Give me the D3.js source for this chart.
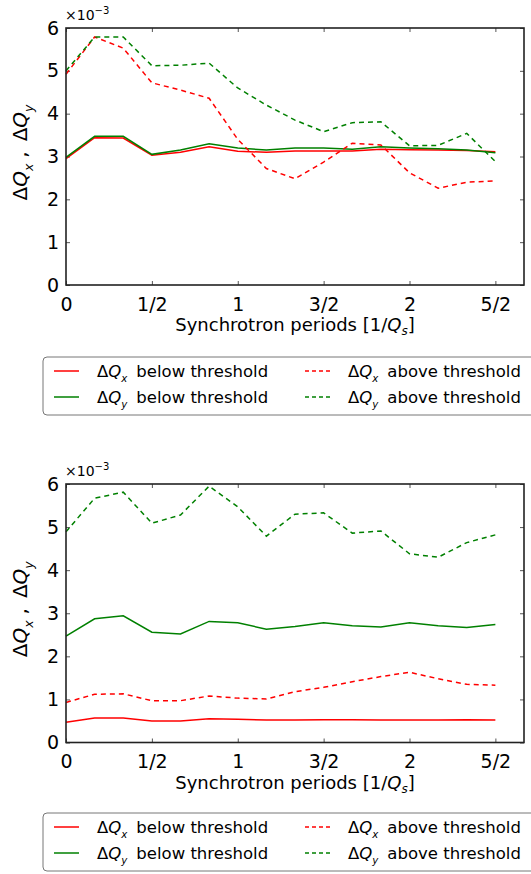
<!DOCTYPE html>
<html>
<head>
<meta charset="utf-8">
<script src="https://cdn.jsdelivr.net/npm/d3@7"></script>
<style>
  body { margin: 0; background: #fff; }
  text { font-family: "DejaVu Sans", sans-serif; fill: #000; }
</style>
</head>
<body>
<svg width="531" height="874"></svg>
<script>
// sample points, in synchrotron periods (1/6 period apart)
var periods = d3.range(16).map(function(i) { return i / 6; });
var xTicks = [0, 0.5, 1, 1.5, 2, 2.5];
var xTickLabels = ["0", "1/2", "1", "3/2", "2", "5/2"];
var yTicks = [0, 1, 2, 3, 4, 5, 6];

// top panel (x1e-3)
var topDqxBelow = [2.95, 3.44, 3.43, 3.03, 3.10, 3.23, 3.12, 3.10, 3.13, 3.13, 3.13, 3.17, 3.16, 3.15, 3.14, 3.11];
var topDqyBelow = [2.98, 3.47, 3.47, 3.05, 3.15, 3.30, 3.20, 3.15, 3.20, 3.20, 3.17, 3.23, 3.20, 3.18, 3.15, 3.09];
var topDqxAbove = [4.92, 5.79, 5.53, 4.72, 4.55, 4.36, 3.40, 2.72, 2.48, 2.87, 3.31, 3.27, 2.62, 2.26, 2.40, 2.43];
var topDqyAbove = [5.00, 5.79, 5.79, 5.12, 5.13, 5.18, 4.60, 4.20, 3.85, 3.58, 3.79, 3.81, 3.25, 3.26, 3.54, 2.88];

// bottom panel (x1e-3)
var botDqxBelow = [0.47, 0.57, 0.57, 0.50, 0.50, 0.55, 0.54, 0.52, 0.52, 0.53, 0.53, 0.52, 0.52, 0.52, 0.53, 0.52];
var botDqyBelow = [2.47, 2.87, 2.94, 2.56, 2.52, 2.81, 2.78, 2.63, 2.69, 2.78, 2.71, 2.68, 2.78, 2.71, 2.67, 2.74];
var botDqxAbove = [0.93, 1.12, 1.13, 0.97, 0.97, 1.08, 1.03, 1.01, 1.18, 1.28, 1.41, 1.53, 1.63, 1.48, 1.35, 1.33];
var botDqyAbove = [4.89, 5.67, 5.81, 5.09, 5.28, 5.95, 5.47, 4.79, 5.30, 5.33, 4.86, 4.91, 4.38, 4.30, 4.64, 4.82];

var RED = "#ff0000", GREEN = "#008000";

var svg = d3.select("svg");

// writes "ΔQ" with a lowered italic subscript; the next tspan must shift back up by 0.28*fs
function dq(text, sub, fs, dx) {
  text.append("tspan").attr("dx", dx || 0).text("\u0394");
  text.append("tspan").attr("font-style", "italic").text("Q");
  text.append("tspan").attr("font-style", "italic").attr("font-size", fs * 0.62)
      .attr("dy", fs * 0.28).text(sub);
}

function drawPanel(top, bottom, legendTop, series) {
  var left = 66, right = 524;
  var x = d3.scaleLinear().domain([0, 16 / 6]).range([left, right]);
  var y = d3.scaleLinear().domain([0, 6]).range([bottom, top]);
  var g = svg.append("g");

  // inward ticks on all four sides
  g.append("g").attr("transform", "translate(0," + bottom + ")")
    .call(d3.axisBottom(x).tickValues(xTicks).tickSize(-4).tickFormat(function(d, i) { return xTickLabels[i]; }))
    .call(function(a) {
      a.select(".domain").remove();
      a.selectAll("text").attr("font-size", 19).attr("dy", "1.05em").attr("y", 6);
      a.selectAll("line").attr("stroke", "#555");
    });
  g.append("g").attr("transform", "translate(0," + top + ")")
    .call(d3.axisTop(x).tickValues(xTicks).tickSize(-4).tickFormat(""))
    .call(function(a) { a.select(".domain").remove(); a.selectAll("line").attr("stroke", "#555"); });
  g.append("g").attr("transform", "translate(" + left + ",0)")
    .call(d3.axisLeft(y).tickValues(yTicks).tickSize(-4).tickFormat(d3.format("d")))
    .call(function(a) {
      a.select(".domain").remove();
      a.selectAll("text").attr("font-size", 19).attr("x", -7);
      a.selectAll("line").attr("stroke", "#555");
    });
  g.append("g").attr("transform", "translate(" + right + ",0)")
    .call(d3.axisRight(y).tickValues(yTicks).tickSize(-4).tickFormat(""))
    .call(function(a) { a.select(".domain").remove(); a.selectAll("line").attr("stroke", "#555"); });

  var line = d3.line().x(function(d, i) { return x(periods[i]); }).y(function(d) { return y(d); });

  series.forEach(function(s) {
    g.append("path").datum(s.values)
      .attr("d", line)
      .attr("fill", "none")
      .attr("stroke", s.color)
      .attr("stroke-width", 1.5)
      .attr("stroke-dasharray", s.dashed ? "5,4" : null);
  });

  g.append("rect")
    .attr("x", left).attr("y", top).attr("width", right - left).attr("height", bottom - top)
    .attr("fill", "none").attr("stroke", "#222").attr("stroke-width", 1.6);

  // offset text
  var off = g.append("text").attr("x", left - 1).attr("y", top - 8).attr("font-size", 14);
  off.append("tspan").text("\u00d710");
  off.append("tspan").attr("font-size", 10).attr("dy", -6).text("\u22123");

  // axis labels
  var xl = g.append("text").attr("x", (left + right) / 2).attr("y", bottom + 46)
    .attr("text-anchor", "middle").attr("font-size", 18);
  xl.append("tspan").text("Synchrotron periods [1/");
  xl.append("tspan").attr("font-style", "italic").text("Q");
  xl.append("tspan").attr("font-style", "italic").attr("font-size", 12).attr("dy", 4).text("s");
  xl.append("tspan").attr("dy", -4).text("]");

  var yl = g.append("text")
    .attr("transform", "translate(27," + ((top + bottom) / 2 - 4) + ") rotate(-90)")
    .attr("text-anchor", "middle").attr("font-size", 20);
  dq(yl, "x", 20);
  yl.append("tspan").attr("dx", 6).attr("dy", -20 * 0.28).text(",");
  dq(yl, "y", 20, 10);

  // legend
  var lg = g.append("g").attr("transform", "translate(43," + legendTop + ")");
  lg.append("rect").attr("width", 520).attr("height", 58).attr("rx", 4)
    .attr("fill", "#fff").attr("stroke", "#777").attr("stroke-width", 1);
  series.forEach(function(s, i) {
    var col = s.dashed ? 1 : 0;
    var row = i % 2;
    var lx = col ? 262 : 11, ty = 14 + row * 26;
    lg.append("line").attr("x1", lx).attr("x2", lx + 25).attr("y1", ty).attr("y2", ty)
      .attr("stroke", s.color).attr("stroke-width", 1.5)
      .attr("stroke-dasharray", s.dashed ? "4,3" : null);
    var t = lg.append("text").attr("x", lx + 43).attr("y", ty + 6).attr("font-size", 16.5);
    dq(t, s.sub, 16.5);
    t.append("tspan").attr("dx", 9).attr("dy", -16.5 * 0.28).text(s.label);
  });
}

drawPanel(28, 285, 357, [
  { values: topDqxBelow, color: RED, dashed: false, sub: "x", label: "below threshold" },
  { values: topDqyBelow, color: GREEN, dashed: false, sub: "y", label: "below threshold" },
  { values: topDqxAbove, color: RED, dashed: true, sub: "x", label: "above threshold" },
  { values: topDqyAbove, color: GREEN, dashed: true, sub: "y", label: "above threshold" }
]);

drawPanel(484, 742.5, 813, [
  { values: botDqxBelow, color: RED, dashed: false, sub: "x", label: "below threshold" },
  { values: botDqyBelow, color: GREEN, dashed: false, sub: "y", label: "below threshold" },
  { values: botDqxAbove, color: RED, dashed: true, sub: "x", label: "above threshold" },
  { values: botDqyAbove, color: GREEN, dashed: true, sub: "y", label: "above threshold" }
]);
</script>
</body>
</html>
